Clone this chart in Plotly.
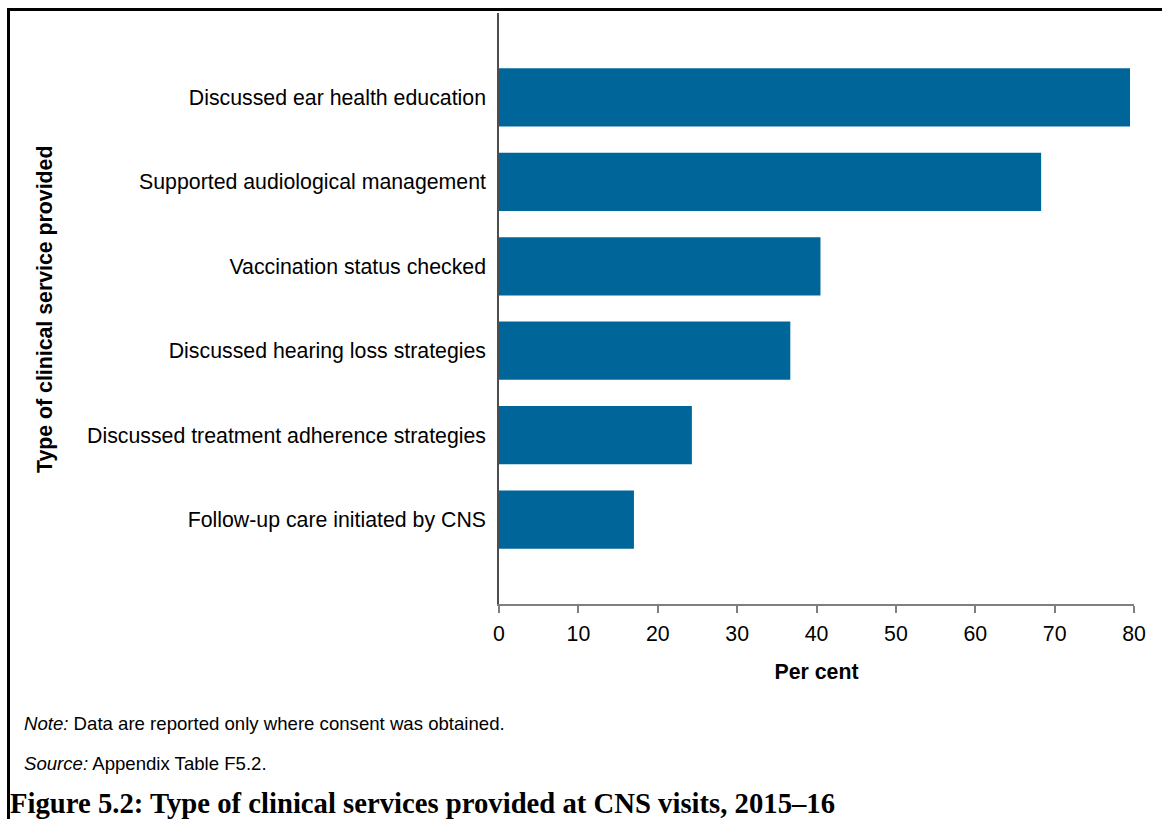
import plotly.graph_objects as go

# Data (bottom to top order on the axis)
categories = [
    "Follow-up care initiated by CNS",
    "Discussed treatment adherence strategies",
    "Discussed hearing loss strategies",
    "Vaccination status checked",
    "Supported audiological management",
    "Discussed ear health education",
]
values = [17.0, 24.3, 36.7, 40.5, 68.3, 79.5]
x_ticks = [0, 10, 20, 30, 40, 50, 60, 70, 80]

W, H = 1162, 819
L, R, T, B = 499, 28, 13, 215
PW = W - L - R
PH = H - T - B


def px(xp):
    return (xp - L) / PW


def py(yp):
    return (H - B - yp) / PH


fig = go.Figure()
fig.add_trace(go.Bar(
    x=values,
    y=list(range(len(categories))),
    orientation="h",
    width=0.69,
    marker=dict(color="#006699", line=dict(width=0)),
    hoverinfo="x",
))

font = "Liberation Sans, Arial, sans-serif"
FS = 21.3

fig.update_layout(
    width=W, height=H,
    margin=dict(l=L, r=R, t=T, b=B, pad=0),
    paper_bgcolor="white",
    plot_bgcolor="white",
    showlegend=False,
    font=dict(family=font, size=FS, color="black"),
    xaxis=dict(
        range=[0, 80],
        tickvals=x_ticks,
        ticktext=[str(v) for v in x_ticks],
        showgrid=False,
        zeroline=False,
        showline=True,
        linecolor="#7f7f7f",
        linewidth=1.5,
        ticks="outside",
        ticklen=7,
        tickcolor="#7f7f7f",
        tickwidth=1.5,
        ticklabelstandoff=3,
        tickfont=dict(family=font, size=FS, color="black"),
        title=dict(text="<b>Per cent</b>", font=dict(family=font, size=FS, color="black"), standoff=19),
        fixedrange=True,
    ),
    yaxis=dict(
        range=[-1, 6],
        tickvals=list(range(len(categories))),
        ticktext=categories,
        showgrid=False,
        zeroline=False,
        showline=True,
        linecolor="#4d4d4d",
        linewidth=1.5,
        ticks="",
        ticklabelstandoff=7,
        tickfont=dict(family=font, size=FS, color="black"),
        fixedrange=True,
    ),
)

annotations = [
    dict(text="<b>Type of clinical service provided</b>", x=px(45), y=py(310),
         xref="paper", yref="paper", showarrow=False, textangle=-90,
         xanchor="center", yanchor="middle",
         font=dict(family=font, size=FS, color="black")),
    dict(text="<i>Note:</i> Data are reported only where consent was obtained.",
         x=px(22), y=py(723), xref="paper", yref="paper", showarrow=False,
         xanchor="left", yanchor="middle",
         font=dict(family=font, size=18.6, color="black")),
    dict(text="<i>Source:</i> Appendix Table F5.2.",
         x=px(22), y=py(763), xref="paper", yref="paper", showarrow=False,
         xanchor="left", yanchor="middle",
         font=dict(family=font, size=18.6, color="black")),
    dict(text="<b>Figure 5.2: Type of clinical services provided at CNS visits, 2015–16</b>",
         x=px(8), y=py(803), xref="paper", yref="paper", showarrow=False,
         xanchor="left", yanchor="middle",
         font=dict(family="Liberation Serif, DejaVu Serif, serif", size=28.7, color="black")),
]
fig.update_layout(annotations=annotations)

fig.add_shape(type="rect", xref="paper", yref="paper",
              x0=px(8.5), x1=px(1190), y0=py(9.5), y1=py(900),
              line=dict(color="black", width=3), fillcolor="rgba(0,0,0,0)", layer="above")

fig.write_html("out.html", config={"displayModeBar": False})

# remove default page margin so the figure sits at the window's top-left
with open("out.html", "r", encoding="utf-8") as f:
    html = f.read()
html = html.replace("<head>", "<head><style>html,body{margin:0;padding:0;overflow:hidden;}</style>", 1)
with open("out.html", "w", encoding="utf-8") as f:
    f.write(html)
